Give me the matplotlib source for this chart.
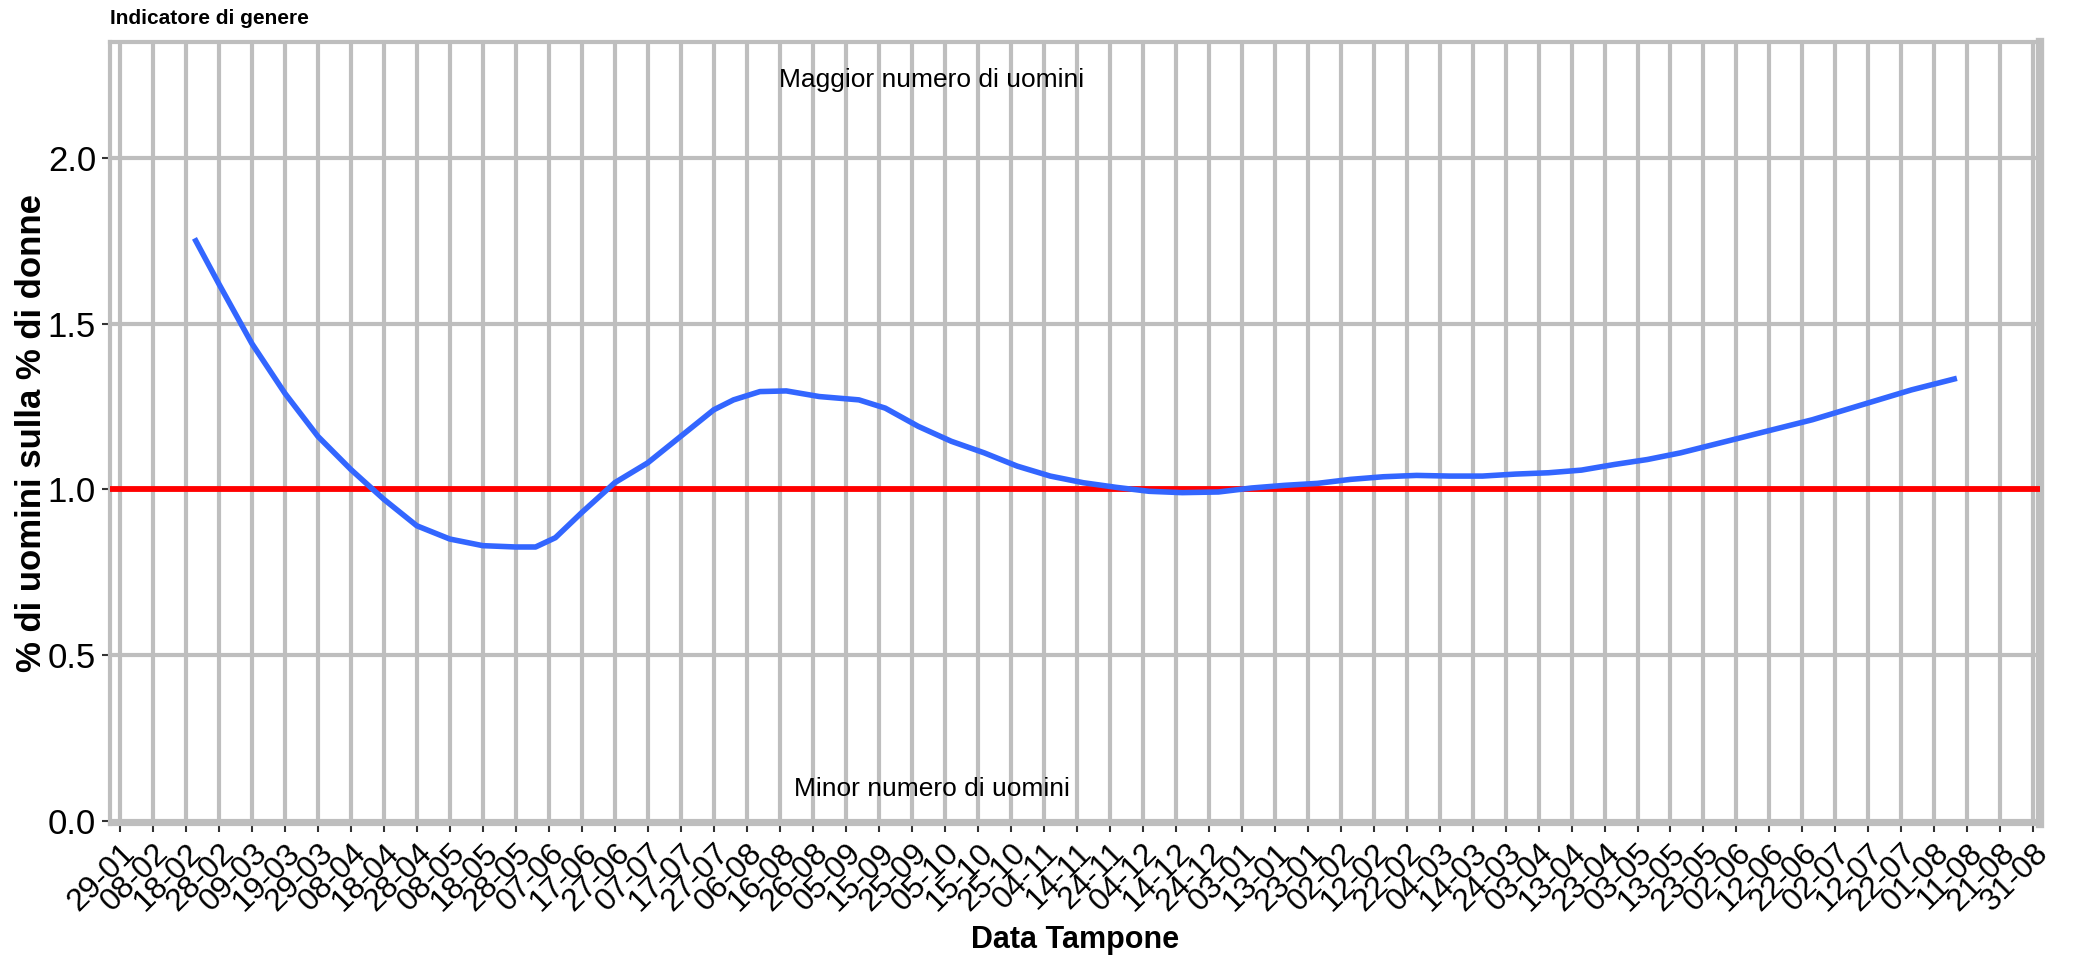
import matplotlib.pyplot as plt
import matplotlib.dates as mdates
import pandas as pd

plt.rcParams['font.family'] = ['Liberation Sans', 'DejaVu Sans']

# smoothed ratio (% men / % women)
smooth_dates = ['2020-02-21', '2020-02-28', '2020-03-09', '2020-03-19', '2020-03-29',
                '2020-04-08', '2020-04-18', '2020-04-28', '2020-05-08', '2020-05-18',
                '2020-05-28', '2020-06-03', '2020-06-09', '2020-06-17', '2020-06-27',
                '2020-07-07', '2020-07-17', '2020-07-27', '2020-08-02', '2020-08-10',
                '2020-08-18', '2020-08-28', '2020-09-09', '2020-09-17', '2020-09-27',
                '2020-10-07', '2020-10-17', '2020-10-27', '2020-11-06', '2020-11-16',
                '2020-11-26', '2020-12-06', '2020-12-16', '2020-12-27', '2021-01-06',
                '2021-01-16', '2021-01-26', '2021-02-05', '2021-02-15', '2021-02-25',
                '2021-03-07', '2021-03-17', '2021-03-27', '2021-04-06', '2021-04-16',
                '2021-04-26', '2021-05-06', '2021-05-16', '2021-05-26', '2021-06-05',
                '2021-06-15', '2021-06-25', '2021-07-05', '2021-07-15', '2021-07-25',
                '2021-08-07']
smooth_ratio = [1.75, 1.62, 1.44, 1.29, 1.16,
                1.06, 0.97, 0.89, 0.85, 0.83,
                0.826, 0.826, 0.854, 0.93, 1.02,
                1.08, 1.16, 1.24, 1.27, 1.295,
                1.297, 1.28, 1.27, 1.245, 1.19,
                1.145, 1.11, 1.07, 1.04, 1.02,
                1.006, 0.994, 0.99, 0.992, 1.004,
                1.012, 1.018, 1.03, 1.038, 1.042,
                1.040, 1.040, 1.046, 1.05, 1.058,
                1.075, 1.09, 1.11, 1.135, 1.16,
                1.185, 1.21, 1.24, 1.27, 1.30,
                1.333]

reference_level = 1.0
y_ticks = [0.0, 0.5, 1.0, 1.5, 2.0]
tick_start, tick_end, tick_step = '2020-01-29', '2021-08-31', '10D'
x_limits = ['2020-01-26', '2021-09-02']

label_top = 'Maggior numero di uomini'
label_bottom = 'Minor numero di uomini'
label_date = '2020-10-01'

dates = pd.to_datetime(smooth_dates)
tick_dates = pd.date_range(tick_start, tick_end, freq=tick_step)

W, H = 2078, 957
fig = plt.figure(figsize=(W / 100, H / 100), dpi=100)
ax = fig.add_axes([110 / W, 1 - 824 / H, (2040 - 110) / W, (824 - 42) / H])

grid_col = '#BEBEBE'
ax.set_axisbelow(True)
ax.grid(True, color=grid_col, linewidth=3.0)

ax.axhline(reference_level, color='#FF0000', linewidth=4.2, zorder=3)
ax.plot(dates, smooth_ratio, color='#3366FF', linewidth=4.0, zorder=4)

ax.set_xlim(pd.to_datetime(x_limits[0]), pd.to_datetime(x_limits[1]))
ax.set_ylim(-0.01, 2.35)

ax.set_xticks(tick_dates)
ax.xaxis.set_major_formatter(mdates.DateFormatter('%d-%m'))
ax.set_yticks(y_ticks)
ax.set_yticklabels([f'{v:.1f}' for v in y_ticks])

plt.setp(ax.get_xticklabels(), rotation=45, ha='right', rotation_mode='anchor')
ax.tick_params(axis='x', labelsize=23, length=6, width=1.5, color='#333333', pad=4)
ax.tick_params(axis='y', labelsize=25, length=6, width=1.5, color='#333333', pad=4)

for side in ['left', 'top', 'bottom']:
    ax.spines[side].set_color(grid_col)
    ax.spines[side].set_linewidth(3)
ax.spines['right'].set_color(grid_col)
ax.spines['right'].set_linewidth(6)

ax.text(pd.to_datetime(label_date), 2.235, label_top, ha='center', va='center', fontsize=19)
ax.text(pd.to_datetime(label_date), 0.095, label_bottom, ha='center', va='center', fontsize=19)

ax.set_xlabel('Data Tampone', fontsize=22, fontweight='bold', labelpad=6)
ax.set_ylabel('% di uomini sulla % di donne', fontsize=25, fontweight='bold', labelpad=0)
fig.text(110 / W, 1 - 18 / H, 'Indicatore di genere', fontsize=15, fontweight='bold',
         ha='left', va='center')

fig.savefig('out.png', dpi=100)
